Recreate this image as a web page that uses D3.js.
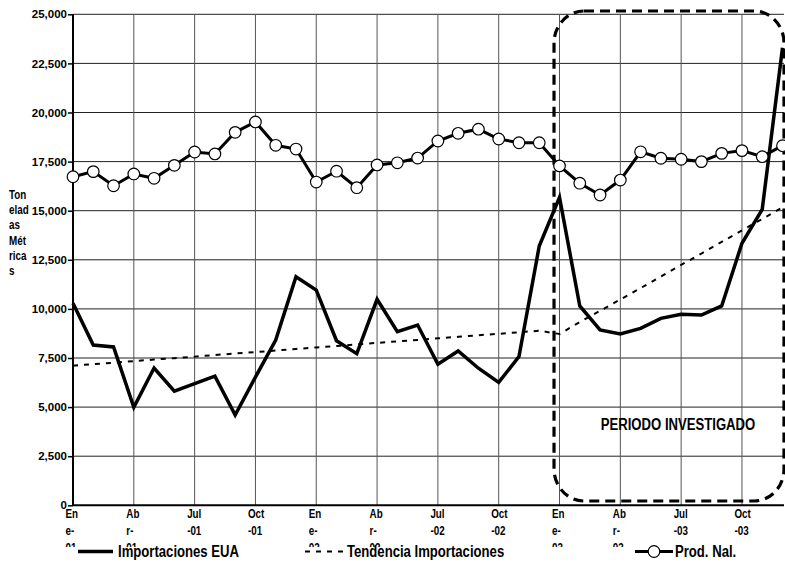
<!DOCTYPE html>
<html>
<head>
<meta charset="utf-8">
<script src="https://cdn.jsdelivr.net/npm/d3@7"></script>
<style>
  html, body { margin: 0; padding: 0; background: #fff; }
  svg { display: block; }
</style>
</head>
<body>
<svg id="chart" width="785" height="562"></svg>
<script>
// ---- data ----
const months = ["Ene-01","Feb-01","Mar-01","Abr-01","May-01","Jun-01","Jul-01","Ago-01","Sep-01","Oct-01","Nov-01","Dic-01",
                "Ene-02","Feb-02","Mar-02","Abr-02","May-02","Jun-02","Jul-02","Ago-02","Sep-02","Oct-02","Nov-02","Dic-02",
                "Ene-03","Feb-03","Mar-03","Abr-03","May-03","Jun-03","Jul-03","Ago-03","Sep-03","Oct-03","Nov-03","Dic-03"];
const tickMonths = ["Ene-01","Abr-01","Jul-01","Oct-01","Ene-02","Abr-02","Jul-02","Oct-02","Ene-03","Abr-03","Jul-03","Oct-03"];
const tickLabels = [["En","e-","01"],["Ab","r-","01"],["Jul","-01"],["Oct","-01"],
                    ["En","e-","02"],["Ab","r-","02"],["Jul","-02"],["Oct","-02"],
                    ["En","e-","03"],["Ab","r-","03"],["Jul","-03"],["Oct","-03"]];
const yTicks = [0, 2500, 5000, 7500, 10000, 12500, 15000, 17500, 20000, 22500, 25000];

const importaciones = [10290, 8160, 8060, 4990, 6990, 5810, 6200, 6580, 4600, 6530, 8410, 11640,
                       10960, 8380, 7720, 10490, 8840, 9180, 7180, 7860, 6980, 6260, 7570, 13200,
                       15680, 10150, 8930, 8720, 9010, 9520, 9730, 9690, 10150, 13340, 15070, 23300];
const tendencia = [7110, 7190, 7260, 7340, 7420, 7490, 7570, 7650, 7730, 7800, 7880, 7960,
                   8040, 8110, 8190, 8270, 8350, 8420, 8500, 8580, 8660, 8730, 8810, 8890,
                   8720, 9330, 9900, 10480, 11060, 11650, 12240, 12820, 13410, 14000, 14580, 15170];
const prodNal = [16730, 16990, 16270, 16870, 16650, 17310, 17990, 17890, 18990, 19520, 18330, 18140,
                 16460, 17010, 16170, 17330, 17440, 17680, 18550, 18940, 19150, 18650, 18460, 18460,
                 17280, 16400, 15800, 16560, 18000, 17670, 17620, 17500, 17920, 18060, 17750, 18310];
const yTitle = ["Ton","elad","as","Mét","rica","s"];
const legendNames = ["Importaciones EUA","Tendencia Importaciones","Prod. Nal."];
const periodLabel = "PERIODO INVESTIGADO";
const periodStart = "Ene-03", periodEnd = "Dic-03";

(function () {
// ---- layout ----
const W = 785, H = 562;
const pLeft = 73, pRight = 782.5, pTop = 14.3, pBottom = 505.3;
const font = "'Liberation Sans',Arial,sans-serif";
const SX = 0.82; // horizontal condensing to mimic a narrow face

const svg = d3.select("#chart");
const x = d3.scalePoint().domain(months).range([pLeft, pRight]);
const y = d3.scaleLinear().domain([0, 25000]).range([pBottom, pTop]);

// condensed text helper
function ctext(parent, tx, ty, size, str, anchor) {
  return parent.append("text")
    .attr("transform", `translate(${tx},${ty}) scale(${SX},1)`)
    .attr("font-family", font).attr("font-weight", "bold")
    .attr("font-size", size + "px").attr("fill", "#000")
    .attr("text-anchor", anchor || "start").text(str);
}

// gridlines
const grid = svg.append("g");
grid.selectAll("line.h").data(yTicks.filter(d => d > 0)).join("line").attr("class", "h")
  .attr("x1", pLeft).attr("x2", 784)
  .attr("y1", d => y(d)).attr("y2", d => y(d))
  .attr("stroke", "#222").attr("stroke-width", 1);
grid.selectAll("line.v").data(tickMonths.slice(1)).join("line").attr("class", "v")
  .attr("x1", d => x(d)).attr("x2", d => x(d))
  .attr("y1", pTop).attr("y2", pBottom)
  .attr("stroke", "#555").attr("stroke-width", 1);

// y axis
const yAxis = svg.append("g").attr("transform", `translate(${pLeft},0)`)
  .call(d3.axisLeft(y).tickValues(yTicks).tickSize(5).tickPadding(1).tickFormat(d3.format(",")));
yAxis.select(".domain").attr("stroke", "#000").attr("stroke-width", 2).attr("d", `M0,${pTop}V${pBottom}`);
yAxis.selectAll(".tick line").attr("stroke", "#000").attr("stroke-width", 1.5);
yAxis.selectAll(".tick text").attr("font-family", font).attr("font-weight", "bold")
  .attr("font-size", "11.5px").attr("fill", "#000");

// x axis line
const xAxis = svg.append("g").attr("transform", `translate(0,${pBottom})`)
  .call(d3.axisBottom(x).tickValues(tickMonths).tickSize(0).tickFormat(""));
xAxis.select(".domain").attr("stroke", "#000").attr("stroke-width", 2).attr("d", `M${pLeft},0H784`);

// x tick labels (clipped at legend band like the original)
svg.append("clipPath").attr("id", "xlclip").append("rect")
  .attr("x", 0).attr("y", pBottom + 2).attr("width", W).attr("height", 547 - pBottom - 2);
const xl = svg.append("g").attr("clip-path", "url(#xlclip)");
tickMonths.forEach((m, i) => {
  tickLabels[i].forEach((s, j) => {
    ctext(xl, x(m) - 7.5, 518 + j * 16.8, 12, s);
  });
});

// y title
const yt = svg.append("g");
yTitle.forEach((s, j) => ctext(yt, 9, 199 + j * 15.2, 12, s));

// investigated period box
const px0 = x(periodStart) - 5.5;
svg.append("rect")
  .attr("x", px0).attr("y", 11)
  .attr("width", 784 - px0).attr("height", 501 - 11)
  .attr("rx", 30).attr("ry", 32)
  .attr("fill", "none").attr("stroke", "#000").attr("stroke-width", 3.2)
  .attr("stroke-dasharray", "10,6");

ctext(svg, (x(periodStart) + x(periodEnd)) / 2 + 7, 430, 16, periodLabel, "middle");

// series
const line = d3.line().x((d, i) => x(months[i])).y(d => y(d));

svg.append("path").datum(tendencia).attr("d", line)
  .attr("fill", "none").attr("stroke", "#000").attr("stroke-width", 2)
  .attr("stroke-dasharray", "5,6");

svg.append("path").datum(importaciones).attr("d", line)
  .attr("fill", "none").attr("stroke", "#000").attr("stroke-width", 3.5)
  .attr("stroke-linejoin", "miter");

svg.append("path").datum(prodNal).attr("d", line)
  .attr("fill", "none").attr("stroke", "#000").attr("stroke-width", 3);
svg.append("g").selectAll("circle").data(prodNal).join("circle")
  .attr("cx", (d, i) => x(months[i])).attr("cy", d => y(d)).attr("r", 5.8)
  .attr("fill", "#fff").attr("stroke", "#000").attr("stroke-width", 1.2);

// legend
const lg = svg.append("g");
const ly = 551.5, lty = 557;
lg.append("line").attr("x1", 78).attr("x2", 113).attr("y1", ly).attr("y2", ly)
  .attr("stroke", "#000").attr("stroke-width", 3.5);
ctext(lg, 118, lty, 16, legendNames[0]);
lg.append("line").attr("x1", 305).attr("x2", 345).attr("y1", ly).attr("y2", ly)
  .attr("stroke", "#000").attr("stroke-width", 2).attr("stroke-dasharray", "5,6");
ctext(lg, 347, lty, 16, legendNames[1]);
lg.append("line").attr("x1", 635).attr("x2", 673).attr("y1", ly).attr("y2", ly)
  .attr("stroke", "#000").attr("stroke-width", 3);
lg.append("circle").attr("cx", 654).attr("cy", ly).attr("r", 5.8)
  .attr("fill", "#fff").attr("stroke", "#000").attr("stroke-width", 1.2);
ctext(lg, 675, lty, 16, legendNames[2]);
})();
</script>
</body>
</html>
